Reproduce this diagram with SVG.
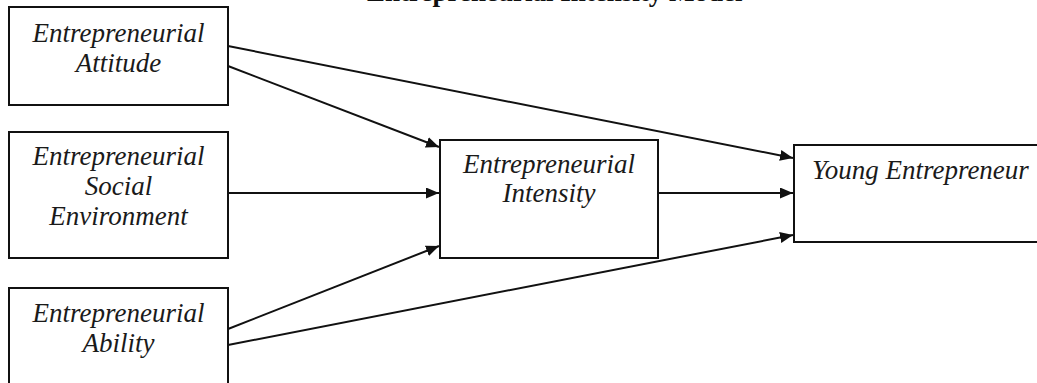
<svg xmlns="http://www.w3.org/2000/svg" width="1037" height="383" viewBox="0 0 1037 383">
<style>
.box{fill:#fff;stroke:#111;stroke-width:2}
.lbl{font-family:"Liberation Serif","Times New Roman",serif;font-style:italic;font-size:27px;fill:#1a1a1a;text-anchor:middle}
.title{font-family:"Liberation Serif","Times New Roman",serif;font-weight:bold;font-size:27px;fill:#111}
.edge{stroke:#111;stroke-width:2;fill:none;marker-end:url(#arr)}
</style>
<defs>
<marker id="arr" markerUnits="userSpaceOnUse" markerWidth="14" markerHeight="12" refX="13" refY="5.5" orient="auto">
<path d="M0,0 L13,5.5 L0,11 z" fill="#111"/>
</marker>
</defs>
<rect width="1037" height="383" fill="#fff"/>
<text class="title" x="367" y="0.5">Entrepreneurial Intensity Model</text>
<g id="connectors">
<line class="edge" x1="228" y1="46" x2="793" y2="158"/>
<line class="edge" x1="228" y1="66" x2="439" y2="147"/>
<line class="edge" x1="228" y1="193" x2="439" y2="193"/>
<line class="edge" x1="228" y1="329" x2="439" y2="246"/>
<line class="edge" x1="228" y1="345" x2="793" y2="235"/>
<line class="edge" x1="658" y1="193" x2="793" y2="193"/>
</g>
<g id="attitude">
<rect class="box" x="9" y="7" width="219" height="98"/>
<text class="lbl" x="118.5" y="42">Entrepreneurial</text>
<text class="lbl" x="118.5" y="72">Attitude</text>
</g>
<g id="social">
<rect class="box" x="9" y="132" width="219" height="126"/>
<text class="lbl" x="118.5" y="165">Entrepreneurial</text>
<text class="lbl" x="118.5" y="195">Social</text>
<text class="lbl" x="118.5" y="225">Environment</text>
</g>
<g id="ability">
<rect class="box" x="9" y="288" width="219" height="110"/>
<text class="lbl" x="118.5" y="322">Entrepreneurial</text>
<text class="lbl" x="118.5" y="352">Ability</text>
</g>
<g id="intensity">
<rect class="box" x="440" y="140" width="218" height="118"/>
<text class="lbl" x="549" y="173">Entrepreneurial</text>
<text class="lbl" x="549" y="202">Intensity</text>
</g>
<g id="young">
<rect class="box" x="794" y="145" width="260" height="97"/>
<text class="lbl" x="920.5" y="179">Young Entrepreneur</text>
</g>
</svg>
